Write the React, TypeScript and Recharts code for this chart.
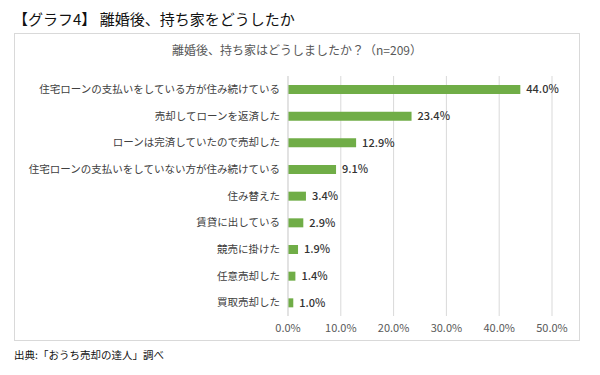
import React from "react";
import { BarChart, Bar, XAxis, YAxis, CartesianGrid, LabelList } from "recharts";

const categories = [
  "住宅ローンの支払いをしている方が住み続けている",
  "売却してローンを返済した",
  "ローンは完済していたので売却した",
  "住宅ローンの支払いをしていない方が住み続けている",
  "住み替えた",
  "賃貸に出している",
  "競売に掛けた",
  "任意売却した",
  "買取売却した",
];
const values = [44.0, 23.4, 12.9, 9.1, 3.4, 2.9, 1.9, 1.4, 1.0];
const xTicks = [0, 10, 20, 30, 40, 50];

const data = categories.map((name, i) => ({ name, value: values[i] }));

const FONT = '"Noto Sans CJK JP", "Noto Sans", sans-serif';

export default function App() {
  return (
    <div style={{ position: "absolute", left: 0, top: 0, width: 600, height: 375, background: "#fff", fontFamily: FONT }}>
      <div style={{ position: "absolute", left: 13, top: 9, fontSize: 15, color: "#111", lineHeight: "20px", whiteSpace: "nowrap" }}>
        【グラフ4】 離婚後、持ち家をどうしたか
      </div>
      <div style={{ position: "absolute", left: 14, top: 33, width: 566, height: 308, border: "1px solid #d9d9d9", boxSizing: "border-box" }} />
      <div style={{ position: "absolute", left: 14, top: 41, width: 566, textAlign: "center", fontSize: 12, color: "#595959", lineHeight: "18px" }}>
        離婚後、持ち家はどうしましたか？（n=209）
      </div>
      <div style={{ position: "absolute", left: 14, top: 33 }}>
        <BarChart
          width={566}
          height={308}
          data={data}
          layout="vertical"
          margin={{ top: 43, right: 28, bottom: 5, left: 0 }}
        >
          <CartesianGrid horizontal={false} vertical={true} stroke="#d9d9d9" />
          <XAxis
            type="number"
            domain={[0, 50]}
            ticks={xTicks}
            tickFormatter={(v: number) => v.toFixed(1) + "%"}
            axisLine={false}
            tickLine={false}
            height={20}
            tick={{ fontSize: 11, fill: "#595959", fontFamily: FONT }}
            interval={0}
          />
          <YAxis
            type="category"
            dataKey="name"
            width={274}
            axisLine={{ stroke: "#d9d9d9" }}
            tickLine={false}
            interval={0}
            tick={{ fontSize: 10.5, fill: "#404040", fontFamily: FONT }}
          />
          <Bar dataKey="value" fill="#70AD47" barSize={9} isAnimationActive={false}>
            <LabelList
              dataKey="value"
              position="right"
              offset={6}
              formatter={(v: number) => v.toFixed(1) + "%"}
              style={{ fontSize: 11, fill: "#333", fontWeight: 500, fontFamily: FONT }}
            />
          </Bar>
        </BarChart>
      </div>
      <div style={{ position: "absolute", left: 14, top: 347, fontSize: 10.5, color: "#111", lineHeight: "16px", whiteSpace: "nowrap" }}>
        出典:「おうち売却の達人」調べ
      </div>
    </div>
  );
}
